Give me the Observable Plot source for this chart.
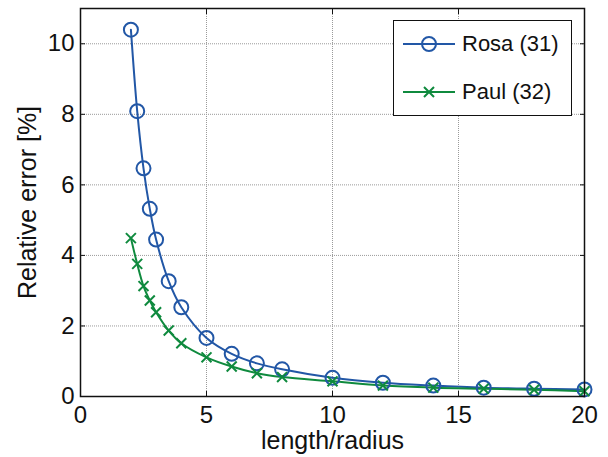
<!DOCTYPE html>
<html>
<head>
<meta charset="utf-8">
<script src="https://cdn.jsdelivr.net/npm/d3@7"></script>
<script src="https://cdn.jsdelivr.net/npm/@observablehq/plot@0.6"></script>
<style>
  html, body { margin: 0; padding: 0; background: #fff; }
  #wrap { position: relative; width: 608px; height: 457px; font-family: "Liberation Sans", Arial, sans-serif; }
  #legend { position: absolute; left: 393px; top: 20px; width: 179px; height: 96px; border: 1px solid #111; background: #fff; box-sizing: border-box; }
  #legend .row { position: absolute; left: 0; height: 30px; display: flex; align-items: center; }
  #legend .row span { font-size: 22px; color: #111; margin-left: 7px; }
</style>
</head>
<body>
<div id="wrap"></div>
<script>
// ---- data ----
const xValues = [2, 2.25, 2.5, 2.75, 3, 3.5, 4, 5, 6, 7, 8, 10, 12, 14, 16, 18, 20];
const rosaValues = [10.4, 8.09, 6.47, 5.32, 4.45, 3.27, 2.53, 1.66, 1.21, 0.94, 0.77, 0.53, 0.39, 0.31, 0.25, 0.22, 0.2];
const paulValues = [4.49, 3.76, 3.13, 2.72, 2.39, 1.87, 1.51, 1.11, 0.85, 0.66, 0.55, 0.43, 0.31, 0.25, 0.22, 0.19, 0.15];
const seriesNames = ["Rosa (31)", "Paul (32)"];
const seriesColors = ["#2257a6", "#0f8a3e"];
const xTicks = [0, 5, 10, 15, 20];
const yTicks = [0, 2, 4, 6, 8, 10];
const xLabel = "length/radius";
const yLabel = "Relative error [%]";

const rosa = xValues.map((x, i) => ({x, y: rosaValues[i]}));
const paul = xValues.map((x, i) => ({x, y: paulValues[i]}));

const chart = Plot.plot({
  width: 608,
  height: 457,
  marginLeft: 80,
  marginRight: 24,
  marginTop: 8,
  marginBottom: 61,
  style: {fontFamily: "Liberation Sans, Arial, sans-serif", fontSize: "23px", color: "#111", background: "#fff"},
  x: {domain: [0, 20], axis: null},
  y: {domain: [0, 11], axis: null},
  marks: [
    Plot.gridX(xTicks, {stroke: "#9a9a9a", strokeOpacity: 1, strokeDasharray: "1,1"}),
    Plot.gridY(yTicks, {stroke: "#9a9a9a", strokeOpacity: 1, strokeDasharray: "1,1"}),
    Plot.text(xTicks, {x: d => d, frameAnchor: "bottom", dy: 9, lineAnchor: "top", text: d => String(d), fontSize: 24, fill: "#111"}),
    Plot.text(yTicks, {y: d => d, frameAnchor: "left", dx: -6, textAnchor: "end", text: d => String(d), fontSize: 24, fill: "#111"}),
    Plot.axisX(xTicks, {anchor: "bottom", tickSize: -5, text: null, label: null}),
    Plot.axisX(xTicks, {anchor: "top", tickSize: -5, text: null, label: null}),
    Plot.axisY(yTicks, {anchor: "left", tickSize: -5, text: null, label: null}),
    Plot.axisY(yTicks, {anchor: "right", tickSize: -5, text: null, label: null}),
    Plot.line(rosa, {x: "x", y: "y", stroke: seriesColors[0], strokeWidth: 2, curve: "catmull-rom"}),
    Plot.line(paul, {x: "x", y: "y", stroke: seriesColors[1], strokeWidth: 2, curve: "catmull-rom"}),
    Plot.dot(rosa, {x: "x", y: "y", r: 7, stroke: seriesColors[0], strokeWidth: 2, fill: "none"}),
    Plot.dot(paul, {x: "x", y: "y", r: 4.6, symbol: "times", stroke: seriesColors[1], strokeWidth: 2}),
    Plot.frame({stroke: "#111", strokeWidth: 1.5}),
    Plot.text([xLabel], {frameAnchor: "bottom", dy: 52, text: d => d, fontSize: 25, lineAnchor: "bottom", textAnchor: "middle", fill: "#111"}),
    Plot.text([yLabel], {frameAnchor: "left", dx: -45, rotate: -90, text: d => d, fontSize: 25, lineAnchor: "bottom", textAnchor: "middle", fill: "#111"})
  ]
});

const wrap = document.getElementById("wrap");
wrap.appendChild(chart);

// legend inside the plot area
const legend = document.createElement("div");
legend.id = "legend";
const symbols = [
  `<svg width="52" height="20"><line x1="0" y1="10" x2="52" y2="10" stroke="${seriesColors[0]}" stroke-width="2"/><circle cx="26" cy="10" r="7" fill="none" stroke="${seriesColors[0]}" stroke-width="2"/></svg>`,
  `<svg width="52" height="20"><line x1="0" y1="10" x2="52" y2="10" stroke="${seriesColors[1]}" stroke-width="2"/><path d="M21,5L31,15M21,15L31,5" stroke="${seriesColors[1]}" stroke-width="2"/></svg>`
];
seriesNames.forEach((name, i) => {
  const row = document.createElement("div");
  row.className = "row";
  row.style.top = (i === 0 ? 8 : 56) + "px";
  row.style.left = "9px";
  row.innerHTML = symbols[i] + `<span>${name}</span>`;
  legend.appendChild(row);
});
wrap.appendChild(legend);
</script>
</body>
</html>
